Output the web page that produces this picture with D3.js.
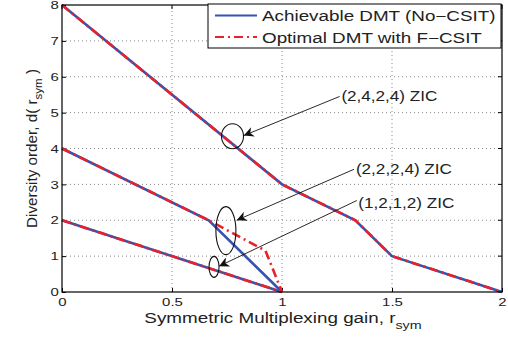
<!DOCTYPE html>
<html>
<head>
<meta charset="utf-8">
<script src="https://cdn.jsdelivr.net/npm/d3@7"></script>
<style>
  body { margin: 0; background: #fff; }
  text { font-family: "Liberation Sans", Arial, sans-serif; fill: #222; }
</style>
</head>
<body>
<script>
// Curves: [r, d] breakpoints
const zic2424 = [[0, 8], [1, 3], [4 / 3, 2], [1.5, 1], [2, 0]];
const zic2224Ach = [[0, 4], [2 / 3, 2], [1, 0]];
const zic2224Opt = [[0, 4], [2 / 3, 2], [0.925, 1.15], [1, 0]];
const zic1212 = [[0, 2], [1, 0]];

const xTicks = [0, 0.5, 1, 1.5, 2];
const xTickLabels = ["0", "0.5", "1", "1.5", "2"];
const yTicks = [0, 1, 2, 3, 4, 5, 6, 7, 8];

const legendLabels = ["Achievable DMT (No\u2212CSIT)", "Optimal DMT with F\u2212CSIT"];

// annotations: label, text anchor, arrow tail, arrow tip, ellipse centre (data units)
const notes = [
  { label: "(2,4,2,4) ZIC", at: [1.27, 5.33], tail: [1.262, 5.45], tip: [0.826, 4.36], ell: [0.775, 4.34], rx: 11, ry: 12.5 },
  { label: "(2,2,2,4) ZIC", at: [1.336, 3.29], tail: [1.327, 3.42], tip: [0.794, 2.0], ell: [0.745, 1.71], rx: 10, ry: 24 },
  { label: "(1,2,1,2) ZIC", at: [1.347, 2.34], tail: [1.34, 2.55], tip: [0.714, 0.72], ell: [0.691, 0.70], rx: 5, ry: 10.5 }
];

const w = 508, h = 341;
const margin = { top: 5, right: 6, bottom: 49, left: 62 };
const blue = "#3553b0", red = "#e8212b";
const sx = 1.3; // the original text is stretched sideways

const svg = d3.select("body").append("svg").attr("width", w).attr("height", h);

const x = d3.scaleLinear().domain([0, 2]).range([margin.left, w - margin.right]);
const y = d3.scaleLinear().domain([0, 8]).range([h - margin.bottom, margin.top]);

// grid
svg.append("g").selectAll("line").data(xTicks.slice(1, -1)).join("line")
  .attr("x1", d => x(d)).attr("x2", d => x(d))
  .attr("y1", y(0)).attr("y2", y(8))
  .attr("stroke", "#888").attr("stroke-width", 1).attr("stroke-dasharray", "1,3");
svg.append("g").selectAll("line").data(yTicks.slice(1, -1)).join("line")
  .attr("y1", d => y(d)).attr("y2", d => y(d))
  .attr("x1", x(0)).attr("x2", x(2))
  .attr("stroke", "#888").attr("stroke-width", 1).attr("stroke-dasharray", "1,3");

// axes
const xAxis = svg.append("g").attr("transform", `translate(0,${y(0)})`)
  .call(d3.axisBottom(x).tickValues(xTicks).tickFormat((d, i) => xTickLabels[i]).tickSizeInner(-4).tickSizeOuter(0).tickPadding(6));
const yAxis = svg.append("g").attr("transform", `translate(${x(0)},0)`)
  .call(d3.axisLeft(y).tickValues(yTicks).tickSizeInner(-4).tickSizeOuter(0).tickPadding(2.5));
[xAxis, yAxis].forEach(a => {
  a.select(".domain").remove();
  a.selectAll("text").style("font-size", "11.5px").attr("fill", "#222")
    .style("font-family", "'Liberation Sans', Arial, sans-serif")
    .attr("transform", `scale(${sx},1)`);
  a.selectAll("line").attr("stroke", "#000");
});
svg.append("g").selectAll("line").data(xTicks).join("line")
  .attr("x1", d => x(d)).attr("x2", d => x(d))
  .attr("y1", y(8)).attr("y2", y(8) + 4).attr("stroke", "#000");
svg.append("g").selectAll("line").data(yTicks).join("line")
  .attr("y1", d => y(d)).attr("y2", d => y(d))
  .attr("x1", x(2)).attr("x2", x(2) - 4).attr("stroke", "#000");

// curves
const line = d3.line().x(d => x(d[0])).y(d => y(d[1]));
[zic2424, zic2224Ach, zic1212].forEach(c => {
  svg.append("path").attr("d", line(c)).attr("fill", "none")
    .attr("stroke", blue).attr("stroke-width", 2.6);
});
[zic2424, zic2224Opt, zic1212].forEach(c => {
  svg.append("path").attr("d", line(c)).attr("fill", "none")
    .attr("stroke", red).attr("stroke-width", 2.6).attr("stroke-dasharray", "9,4,2,4");
});

// box
svg.append("rect").attr("x", x(0)).attr("y", y(8))
  .attr("width", x(2) - x(0)).attr("height", y(0) - y(8))
  .attr("fill", "none").attr("stroke", "#000").attr("stroke-width", 1.2);

// annotations
const defs = svg.append("defs");
defs.append("marker").attr("id", "head").attr("viewBox", "0 0 10 10")
  .attr("refX", 10).attr("refY", 5).attr("markerWidth", 15).attr("markerHeight", 10)
  .attr("markerUnits", "userSpaceOnUse").attr("orient", "auto")
  .append("path").attr("d", "M0,0 L10,5 L0,10 L3,5 Z").attr("fill", "#111");

notes.forEach(n => {
  svg.append("ellipse").attr("cx", x(n.ell[0])).attr("cy", y(n.ell[1]))
    .attr("rx", n.rx).attr("ry", n.ry).attr("fill", "none")
    .attr("stroke", "#111").attr("stroke-width", 1.1);
  svg.append("line").attr("x1", x(n.tail[0])).attr("y1", y(n.tail[1]))
    .attr("x2", x(n.tip[0])).attr("y2", y(n.tip[1]))
    .attr("stroke", "#111").attr("stroke-width", 0.9).attr("marker-end", "url(#head)");
  svg.append("text").attr("transform", `translate(${x(n.at[0])},${y(n.at[1])}) scale(1.18,1)`)
    .style("font-size", "14.5px").text(n.label);
});

// legend
const lg = svg.append("g").attr("transform", "translate(208,4)");
lg.append("rect").attr("width", 293).attr("height", 44)
  .attr("fill", "#fff").attr("stroke", "#000").attr("stroke-width", 1);
legendLabels.forEach((t, i) => {
  const yy = 11.5 + i * 21.5;
  lg.append("line").attr("x1", 7).attr("x2", 49).attr("y1", yy).attr("y2", yy)
    .attr("stroke", i === 0 ? blue : red).attr("stroke-width", 2.2)
    .attr("stroke-dasharray", i === 0 ? null : "9,4,2,4");
  lg.append("text").attr("transform", `translate(54,${yy + 5.5}) scale(${sx},1)`)
    .style("font-size", "14.5px").text(t);
});

// axis labels
const xl = svg.append("text").attr("transform", `translate(283,323) scale(${sx},1)`)
  .attr("text-anchor", "middle").style("font-size", "14.5px");
xl.append("tspan").text("Symmetric Multiplexing gain, r");
xl.append("tspan").attr("dy", 6).style("font-size", "11px").text("sym");

const yl = svg.append("text").attr("transform", "translate(36.5,148.5) rotate(-90) scale(1.05,1)")
  .attr("text-anchor", "middle").style("font-size", "14.5px");
yl.append("tspan").text("Diversity order, d( r");
yl.append("tspan").attr("dy", 5).style("font-size", "11px").text("sym");
yl.append("tspan").attr("dy", -5).text(" )");
</script>
</body>
</html>
